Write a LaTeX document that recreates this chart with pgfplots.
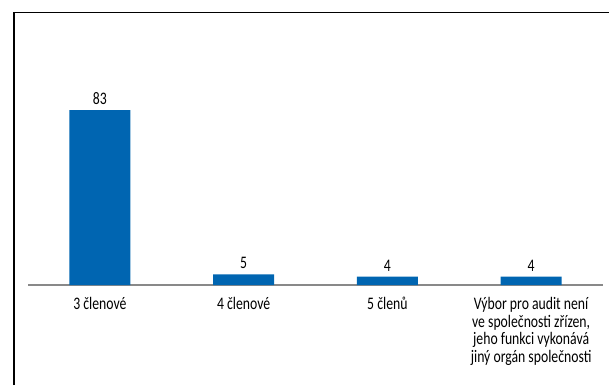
\documentclass[border=0pt]{standalone}
\usepackage{fontspec}
\setmainfont{Carlito}[FakeStretch=0.78]
\usepackage{pgfplots}
\pgfplotsset{compat=1.18}
\definecolor{barblue}{RGB}{0,101,177}
\definecolor{basegray}{RGB}{137,137,137}
\newcommand{\chartfont}{\fontsize{17.6bp}{17.6bp}\selectfont}
\begin{document}
\begin{tikzpicture}[x=1bp,y=1bp]
\path[use as bounding box] (0,0) rectangle (609,385);
\draw[line width=1.6bp] (14,0) -- (14,372.5) -- (609,372.5);
\begin{axis}[
  at={(28bp,100bp)}, anchor=south west,
  scale only axis, width=575bp, height=210.8bp,
  xmin=-0.5, xmax=3.5, ymin=0, ymax=100,
  hide y axis,
  axis x line*=bottom,
  x axis line style={basegray, line width=2.2bp, -},
  xtick={0,1,2,3},
  xticklabels={3 členové, 4 členové, 5 členů, {Výbor pro audit není\\ve společnosti zřízen,\\jeho funkci vykonává\\jiný orgán společnosti}},
  major tick length=0pt,
  xticklabel style={font=\chartfont, align=center, anchor=north, yshift=-9bp},
  ybar, bar width=61bp, bar shift=0pt,
  /pgf/number format/assume math mode=true,
  nodes near coords,
  every node near coord/.append style={font=\chartfont, black, anchor=south, yshift=2bp},
  clip=false,
]
\addplot[fill=barblue, draw=none] coordinates {(0,83) (1,5) (2,4) (3,4)};
\end{axis}
\end{tikzpicture}
\end{document}
